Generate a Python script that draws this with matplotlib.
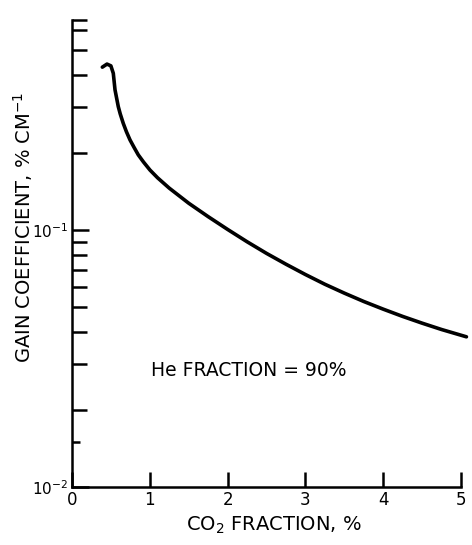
import matplotlib
matplotlib.use('Agg')
import matplotlib.pyplot as plt
from matplotlib.ticker import FixedLocator, NullFormatter, FixedFormatter

# Data
co2_fraction = [0.39, 0.45, 0.50, 0.531, 0.553, 0.595, 0.62, 0.659, 0.70, 0.746,
                0.80, 0.852, 0.92, 1.003, 1.10, 1.25, 1.50, 1.75, 2.00, 2.25,
                2.50, 2.75, 3.00, 3.25, 3.50, 3.75, 4.00, 4.25, 4.50, 4.75, 5.07]
gain_coeff = [0.430, 0.442, 0.435, 0.407, 0.351, 0.302, 0.283, 0.260, 0.241, 0.224,
              0.209, 0.196, 0.1837, 0.171, 0.1596, 0.1455, 0.1271, 0.1127, 0.1005,
              0.0900, 0.0811, 0.0736, 0.0671, 0.0615, 0.0568, 0.0527, 0.0492,
              0.0461, 0.0434, 0.0410, 0.0384]

x_ticks = [0, 1, 2, 3, 4, 5]
x_tick_labels = ['0', '1', '2', '3', '4', '5']
y_major = [0.01, 0.1]
y_major_labels = [r'$10^{-2}$', r'$10^{-1}$']
y_minor = [0.015, 0.02, 0.03, 0.04, 0.05, 0.06, 0.07, 0.08, 0.09,
           0.2, 0.3, 0.4, 0.5, 0.6]

plt.rcParams['font.family'] = ['DejaVu Sans']

fig = plt.figure(figsize=(4.72, 5.45), dpi=100)
ax = fig.add_axes([0.1525, 0.1064, 0.8242, 0.8569])

ax.plot(co2_fraction, gain_coeff, color='black', lw=2.6, solid_capstyle='round',
        solid_joinstyle='round', clip_on=False)

ax.set_yscale('log')
ax.set_xlim(0, 5)
ax.set_ylim(0.01, 0.656)

for side in ['top', 'right']:
    ax.spines[side].set_visible(False)
for side in ['left', 'bottom']:
    ax.spines[side].set_linewidth(1.8)

ax.xaxis.set_major_locator(FixedLocator(x_ticks))
ax.xaxis.set_major_formatter(FixedFormatter(x_tick_labels))
ax.xaxis.set_minor_locator(FixedLocator([]))
ax.yaxis.set_major_locator(FixedLocator(y_major))
ax.yaxis.set_major_formatter(FixedFormatter(y_major_labels))
ax.yaxis.set_minor_locator(FixedLocator(y_minor + [0.656]))
ax.yaxis.set_minor_formatter(NullFormatter())

ax.tick_params(axis='x', which='major', direction='in', length=11, width=1.8,
               labelsize=12, pad=3)
ax.tick_params(axis='y', which='major', direction='in', length=12, width=1.8,
               labelsize=11, pad=3)
ax.tick_params(axis='y', which='minor', direction='in', length=11, width=1.8)

# shorter tick at 0.015
mt = ax.yaxis.get_minor_ticks()
mt[0].tick1line.set_markersize(6)

ax.set_xlabel(r'CO$_2$ FRACTION, %', fontsize=14)
ax.xaxis.set_label_coords(0.52, -0.06)
ax.set_ylabel(r'GAIN COEFFICIENT, % CM$^{-1}$', fontsize=14)
ax.yaxis.set_label_coords(-0.095, 0.555)

ax.text(2.27, 0.0285, 'He FRACTION = 90%', fontsize=13.5, ha='center', va='center')

fig.savefig('out.png', dpi=100)
